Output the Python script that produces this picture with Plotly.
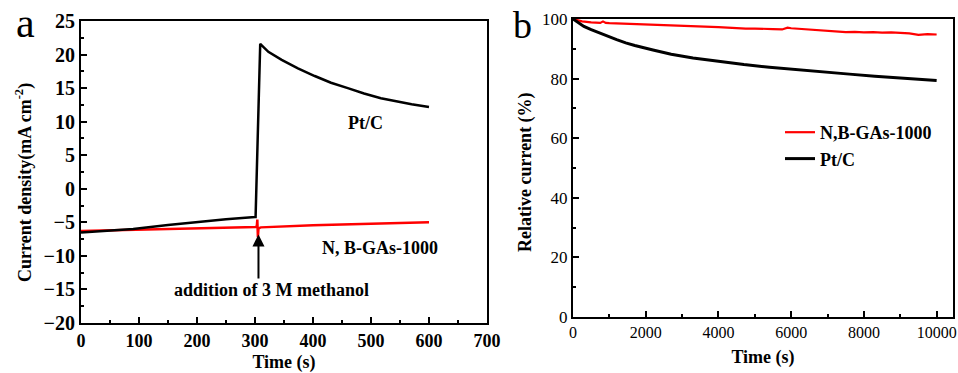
import plotly.graph_objects as go

# ---- Panel a data ----
a_pt_t = [0, 30, 60, 90, 150, 200, 250, 300, 301, 309, 323, 346, 374, 403, 431, 460, 488, 517, 545, 570, 600]
a_pt_v = [-6.5, -6.3, -6.15, -6.0, -5.4, -4.95, -4.55, -4.2, -4.2, 21.6, 20.4, 19.2, 17.95, 16.8, 15.8, 15.0, 14.2, 13.5, 13.0, 12.6, 12.2]
a_nb_t = [0, 100, 200, 300, 303, 304, 305, 306, 310, 400, 500, 600]
a_nb_v = [-6.3, -6.1, -5.95, -5.8, -5.7, -4.6, -7.2, -5.9, -5.75, -5.45, -5.2, -5.0]

# ---- Panel b data ----
b_nb_t = [0, 100, 250, 500, 750, 825, 900, 1000, 1250, 1500, 1750, 2000, 2250, 2500, 2750, 2900, 3000,
          3250, 3500, 3750, 4000, 4250, 4500, 4750, 5000, 5250, 5500, 5750, 5900, 6000, 6250, 6500,
          6750, 7000, 7250, 7500, 7750, 8000, 8250, 8500, 8750, 9000, 9250, 9500, 9750, 10000]
b_nb_v = [100, 99.6, 99.2, 98.9, 98.7, 99.2, 98.7, 98.6, 98.5, 98.4, 98.3, 98.3, 98.1, 98.0, 98.0, 97.7, 97.9,
          97.6, 97.6, 97.4, 97.3, 97.1, 96.9, 96.8, 96.8, 96.6, 96.6, 96.5, 97.1, 96.9, 96.7, 96.4,
          96.2, 95.9, 95.8, 95.6, 95.7, 95.5, 95.6, 95.4, 95.5, 95.3, 95.2, 94.7, 94.9, 94.8]
b_pt_t = [0, 150, 300, 500, 700, 950, 1200, 1450, 1700, 2200, 2700, 3300, 4000, 4700, 5400, 6100, 6900, 7600, 8300, 9100, 10000]
b_pt_v = [100, 98.6, 97.5, 96.4, 95.4, 94.2, 93.1, 92.0, 91.1, 89.6, 88.2, 86.9, 85.7, 84.7, 83.8, 83.0, 82.2, 81.5, 80.8, 80.1, 79.4]

FONT = "Liberation Serif"

fig = go.Figure()
fig.add_trace(go.Scatter(x=a_nb_t, y=a_nb_v, mode="lines", line=dict(color="#ff0000", width=2.5),
                         xaxis="x", yaxis="y", showlegend=False, name="N, B-GAs-1000"))
fig.add_trace(go.Scatter(x=a_pt_t, y=a_pt_v, mode="lines", line=dict(color="#000000", width=2.5),
                         xaxis="x", yaxis="y", showlegend=False, name="Pt/C"))
fig.add_trace(go.Scatter(x=b_nb_t, y=b_nb_v, mode="lines", line=dict(color="#ff0000", width=2.2),
                         xaxis="x2", yaxis="y2", name="N,B-GAs-1000"))
fig.add_trace(go.Scatter(x=b_pt_t, y=b_pt_v, mode="lines", line=dict(color="#000000", width=3),
                         xaxis="x2", yaxis="y2", name="Pt/C"))

axis_common = dict(showline=True, linecolor="black", linewidth=2, mirror=True, ticks="inside",
                   tickcolor="black", tickwidth=2, ticklen=6, showgrid=False, zeroline=False,
                   automargin=False)

W, H = 958, 373
L, T, R, B = 81, 19, 5, 50


def px(xwin):
    return (xwin - L) / (W - L - R)


def py(ywin):
    return 1 - (ywin - T) / (H - T - B)


fig.update_layout(
    width=W, height=H, autosize=False,
    margin=dict(l=L, r=R, t=T, b=B, pad=0),
    paper_bgcolor="white", plot_bgcolor="white",
    font=dict(family=FONT, color="black"),
    xaxis=dict(domain=[0, px(487)], range=[0, 700], dtick=100, anchor="y",
               tickfont=dict(size=18, weight="bold", family=FONT),
               minor=dict(ticks="inside", dtick=50, ticklen=3, tickwidth=2, tickcolor="black"),
               title=dict(text="Time (s)", font=dict(size=18, weight="bold", family=FONT), standoff=9),
               **axis_common),
    yaxis=dict(domain=[0, py(21)], range=[-20, 25], dtick=5, anchor="x",
               tickfont=dict(size=20, weight="bold", family=FONT),
               minor=dict(ticks="inside", dtick=2.5, ticklen=3, tickwidth=2, tickcolor="black"),
               **axis_common),
    xaxis2=dict(domain=[px(573), 1], range=[0, 10450], tickvals=[0, 2000, 4000, 6000, 8000, 10000],
                tickformat="d", anchor="y2",
                tickfont=dict(size=16, family=FONT),
                minor=dict(ticks="inside", dtick=1000, ticklen=3, tickwidth=2, tickcolor="black"),
                title=dict(text="Time (s)", font=dict(size=18, weight="bold", family=FONT), standoff=10),
                **axis_common),
    yaxis2=dict(domain=[py(317), 1], range=[0, 100], dtick=20, anchor="x2",
                tickfont=dict(size=17, family=FONT),
                minor=dict(ticks="inside", dtick=10, ticklen=3, tickwidth=2, tickcolor="black"),
                **axis_common),
    legend=dict(x=px(780), y=py(114), xref="paper", yref="paper", xanchor="left", yanchor="top",
                bgcolor="rgba(0,0,0,0)", font=dict(size=18, weight="bold", family=FONT),
                tracegroupgap=0),
    annotations=[
        dict(text="a", x=px(25), y=py(23), xref="paper", yref="paper", showarrow=False,
             xanchor="center", yanchor="middle", font=dict(size=42, family=FONT)),
        dict(text="b", x=px(522), y=py(25), xref="paper", yref="paper", showarrow=False,
             xanchor="center", yanchor="middle", font=dict(size=38, family=FONT)),
        dict(text="Current density(mA cm<sup>-2</sup>)", x=px(24), y=py(183), xref="paper", yref="paper",
             showarrow=False, textangle=-90, xanchor="center", yanchor="middle",
             font=dict(size=18, weight="bold", family=FONT)),
        dict(text="Relative current (%)", x=px(525), y=py(172), xref="paper", yref="paper",
             showarrow=False, textangle=-90, xanchor="center", yanchor="middle",
             font=dict(size=18, weight="bold", family=FONT)),
        dict(text="Pt/C", x=491, y=9.8, xref="x", yref="y", showarrow=False,
             font=dict(size=18, weight="bold", family=FONT)),
        dict(text="N, B-GAs-1000", x=516, y=-8.8, xref="x", yref="y", showarrow=False,
             font=dict(size=18, weight="bold", family=FONT)),
        dict(text="addition of 3 M methanol", x=328, y=-15.1, xref="x", yref="y", showarrow=False,
             font=dict(size=18, weight="bold", family=FONT)),
        dict(text="", x=306, y=-6.8, ax=306, ay=-13.6, xref="x", yref="y", axref="x", ayref="y",
             showarrow=True, arrowhead=2, arrowsize=1.2, arrowwidth=2, arrowcolor="black"),
    ],
)

# remove the default 8px page margin so the 958x373 figure fills the window exactly
fig.write_html("out.html", config={"responsive": False, "displayModeBar": False},
               post_script="document.body.style.margin='0';document.body.style.overflow='hidden';")
